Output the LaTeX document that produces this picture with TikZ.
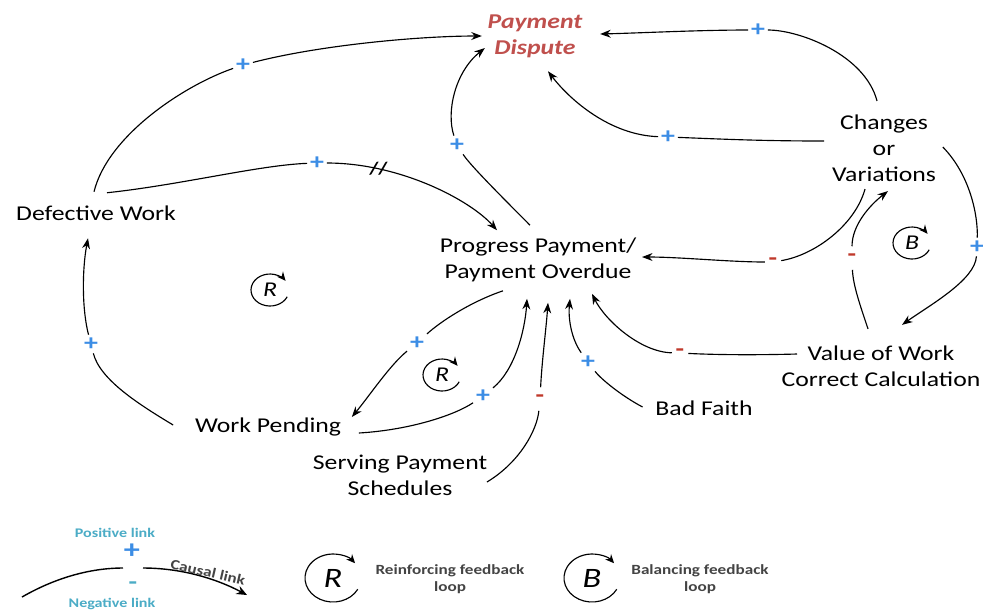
\documentclass[tikz,border=0pt]{standalone}
\usepackage{fontspec}
\setmainfont{Carlito}[FakeStretch=1.22]
\usetikzlibrary{arrows.meta}
\definecolor{pblue}{HTML}{3C8DE5}
\definecolor{mred}{HTML}{C0392B}
\definecolor{pdred}{HTML}{C0504D}
\definecolor{lteal}{HTML}{4BACC6}
\definecolor{lgray}{HTML}{444444}
\begin{document}
\begin{tikzpicture}[x=0.02cm,y=-0.02cm,
  var/.style={align=center,inner sep=2pt,font=\fontsize{12}{14.7}\selectfont},
  title/.style={align=center,inner sep=2pt,font=\fontsize{12}{14.7}\selectfont\bfseries\itshape,text=pdred},
  plus/.style={inner sep=1.5pt,text=pblue,font=\fontsize{13}{13}\selectfont\bfseries},
  minus/.style={inner sep=0pt,minimum width=9pt,minimum height=13pt,text=mred,font=\fontsize{13}{13}\selectfont\bfseries},
  link/.style={line width=0.65pt,-{Stealth[length=6pt,width=4.5pt]}},
  delay/.style={inner sep=0pt,font=\fontsize{10}{10}\selectfont\bfseries},
  loopl/.style={inner sep=0pt,font=\fontsize{12}{12}\selectfont\itshape},
  bigloopl/.style={inner sep=0pt,font=\fontsize{16}{16}\selectfont\itshape},
  looparc/.style={line width=0.65pt,-{Stealth[length=5pt,width=4.5pt]}},
  legtext/.style={align=center,inner sep=0pt,text=lgray,font=\fontsize{8}{9.5}\selectfont\bfseries},
  legteal/.style={inner sep=0pt,text=lteal,font=\fontsize{7.5}{9}\selectfont\bfseries},
  legline/.style={line width=0.8pt}
]
\useasboundingbox[fill=white] (0,0) rectangle (983,610);

% variables
\node[title] (pd) at (535,36) {Payment\\Dispute};
\node[var] (dw) at (96,213) {Defective Work};
\node[var] (pp) at (538,260) {Progress Payment/\\Payment Overdue};
\node[var] (cv) at (884,148) {Changes\\or\\Variations};
\node[var] (vw) at (881,366) {Value of Work\\Correct Calculation};
\node[var] (bf) at (704,408) {Bad Faith};
\node[var] (wp) at (268,427) {Work Pending};
\node[var] (sp) at (400,475) {Serving Payment\\Schedules};

% polarity signs
\node[plus] (s1) at (243,65) {+};
\node[plus] (s2) at (317,163) {+};
\node[plus] (s3) at (457,145) {+};
\node[plus] (s4) at (758,30) {+};
\node[plus] (s5) at (668,137) {+};
\node[minus] (s6) at (773,262) {-};
\node[plus] (s7) at (977,247) {+};
\node[minus] (s8) at (852,258) {-};
\node[minus] (s9) at (680,353) {-};
\node[plus] (s10) at (588,362) {+};
\node[minus] (s11) at (540,399) {-};
\node[plus] (s12) at (483,396) {+};
\node[plus] (s13) at (417,343) {+};
\node[plus] (s14) at (91,344) {+};

% connectors
\draw[link] ([shift={(-2,-10)}]dw.north) .. controls (108,135) and (185,85) .. (s1)
  .. controls (320,45) and (420,36) .. ([shift={(-2,0)}]pd.west);
\draw[link] ([shift={(11,-9)}]dw.north) .. controls (180,185) and (260,165) .. (s2)
  .. controls (400,163) and (470,200) .. ([shift={(-41,-4)}]pp.north) node[delay,pos=0.24] {//};
\draw[link] ([shift={(-8,-9)}]pp.north) .. controls (500,195) and (470,165) .. (s3)
  .. controls (446,112) and (455,72) .. ([shift={(1,12)}]pd.west);
\draw[link] ([shift={(-7,-10)}]cv.north) .. controls (865,55) and (800,30) .. (s4)
  .. controls (700,30) and (640,33) .. ([shift={(14,-2)}]pd.east);
\draw[link] ([shift={(-4,-7)}]cv.west) .. controls (760,141) and (720,139) .. (s5)
  .. controls (610,135) and (570,100) .. ([shift={(13,10)}]pd.south);
\draw[link] ([shift={(-19,4)}]cv.south) .. controls (855,225) and (815,255) .. (s6)
  .. controls (730,262) and (680,257) .. ([shift={(2,-3)}]pp.east);
\draw[link] ([shift={(3,-1)}]cv.east) .. controls (970,175) and (978,215) .. (s7)
  .. controls (975,280) and (930,305) .. ([shift={(21,-17)}]vw.north);
\draw[link] ([shift={(-13,-13)}]vw.north) .. controls (860,305) and (853,285) .. (s8)
  .. controls (852,225) and (870,205) .. ([shift={(4,6)}]cv.south);
\draw[link] ([shift={(-84,-12)}]vw.center) .. controls (760,355) and (720,355) .. (s9)
  .. controls (640,352) and (605,320) .. ([shift={(54,8)}]pp.south);
\draw[link] ([shift={(-9,-1)}]bf.west) .. controls (620,395) and (600,378) .. (s10)
  .. controls (572,340) and (568,320) .. ([shift={(32,13)}]pp.south);
\draw[link] ([shift={(-4,7)}]sp.east) .. controls (520,462) and (537,430) .. (s11)
  .. controls (542,360) and (546,330) .. ([shift={(10,17)}]pp.south);
\draw[link] ([shift={(14,6)}]wp.east) .. controls (410,430) and (455,415) .. (s12)
  .. controls (515,370) and (525,330) .. ([shift={(-11,13)}]pp.south);
\draw[link] ([shift={(-35,5)}]pp.south) .. controls (470,302) and (440,322) .. (s13)
  .. controls (390,365) and (370,395) .. ([shift={(7,-10)}]wp.east);
\draw[link] ([shift={(-18,-2)}]wp.west) .. controls (140,405) and (100,380) .. (s14)
  .. controls (82,310) and (82,270) .. ([shift={(-8,14)}]dw.south);

% loop markers
\node[loopl] (l1) at (270,290) {R};
\draw[looparc] ([shift={(25:19 and 16)}]l1.center) arc[start angle=25,end angle=325,x radius=19,y radius=16];
\node[loopl] (l2) at (442,375) {R};
\draw[looparc] ([shift={(25:19 and 16)}]l2.center) arc[start angle=25,end angle=325,x radius=19,y radius=16];
\node[loopl] (l3) at (912,243) {B};
\draw[looparc] ([shift={(25:19 and 16)}]l3.center) arc[start angle=25,end angle=325,x radius=19,y radius=16];

% legend
\node[legteal] (lpos) at (115,533) {Positive link};
\node[inner sep=0pt,text=pblue,font=\fontsize{15}{15}\selectfont\bfseries] (lplus) at (132,551) {+};
\node[inner sep=0pt,text=lteal,font=\fontsize{13}{13}\selectfont\bfseries] (lminus) at (133,586) {-};
\node[legteal] (lneg) at (112,604) {Negative link};
\coordinate (la) at (22,597);
\coordinate (lb) at (123,568);
\coordinate (lc) at (143,568);
\coordinate (ld) at (247,595);
\draw[legline] (la) .. controls (55,578) and (90,568) .. (lb);
\draw[legline,-{Stealth[length=6pt,width=5pt]}] (lc) .. controls (180,568) and (215,578) .. (ld);
\node[legtext,rotate=-13] (lcaus) at (208,572) {Causal link};

\node[bigloopl] (lr) at (333,578) {R};
\draw[looparc] ([shift={(28:28 and 24)}]lr.center) arc[start angle=28,end angle=322,x radius=28,y radius=24];
\node[legtext] (lrt) at (450,579) {Reinforcing feedback\\loop};
\node[bigloopl] (lbb) at (592,578) {B};
\draw[looparc] ([shift={(28:28 and 24)}]lbb.center) arc[start angle=28,end angle=322,x radius=28,y radius=24];
\node[legtext] (lbt) at (700,579) {Balancing feedback\\loop};
\end{tikzpicture}
\end{document}
